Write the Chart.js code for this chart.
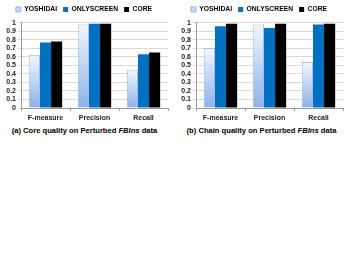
<!DOCTYPE html>
<html>
<head>
<meta charset="utf-8">
<script src="https://cdn.jsdelivr.net/npm/chart.js@4/dist/chart.umd.min.js"></script>
<style>
    body { margin: 0; background: #fff; width: 350px; height: 263px; position: relative; overflow: hidden; }
    .panel { position: absolute; top: 0; width: 175px; height: 122px; }
    .caption { position: absolute; top: 126px; width: 175px; text-align: center; white-space: nowrap;
        font-family: "Liberation Sans", Arial, sans-serif; font-weight: bold; font-size: 7.6px; color: #000;
        -webkit-font-smoothing: antialiased; }
</style>
</head>
<body>
<div class="panel" style="left:0"><canvas id="coreChart" width="175" height="122"></canvas></div>
<div class="panel" style="left:175px"><canvas id="chainChart" width="175" height="122"></canvas></div>
<div class="caption" style="left:-3px">(a) Core quality on Perturbed <i>FBIns</i> data</div>
<div class="caption" style="left:174px">(b) Chain quality on Perturbed <i>FBIns</i> data</div>
<script>
const categories = ['F-measure', 'Precision', 'Recall'];
const seriesNames = ['YOSHIDAI', 'ONLYSCREEN', 'CORE'];
const yTicks = [0, 0.1, 0.2, 0.3, 0.4, 0.5, 0.6, 0.7, 0.8, 0.9, 1];

// panel (a) core quality
const coreYoshidai = [0.62, 0.98, 0.45];
const coreOnlyscreen = [0.77, 0.99, 0.63];
const coreCore = [0.78, 0.99, 0.65];

// panel (b) chain quality
const chainYoshidai = [0.70, 0.98, 0.54];
const chainOnlyscreen = [0.96, 0.94, 0.98];
const chainCore = [0.99, 0.99, 0.99];

const FONT = 'Liberation Sans, Arial, sans-serif';

// per-bar gradient like the excel fill
function yoshidaiFill(context) {
    const chart = context.chart;
    if (!chart.chartArea || context.parsed === undefined) return '#c6d9f5';
    const y = chart.scales.y;
    const top = y.getPixelForValue(context.parsed.y);
    const bottom = y.getPixelForValue(0);
    const g = chart.ctx.createLinearGradient(0, top, 0, bottom);
    g.addColorStop(0, '#f2f6fd');
    g.addColorStop(1, '#8db2ea');
    return g;
}

function makeChart(id, a, b, c) {
    const ctx = document.getElementById(id).getContext('2d');
    return new Chart(ctx, {
        type: 'bar',
        data: {
            labels: categories,
            datasets: [{
                label: seriesNames[0],
                data: a,
                backgroundColor: yoshidaiFill,
                borderColor: '#86aae2',
                borderWidth: 0.8
            }, {
                label: seriesNames[1],
                data: b,
                backgroundColor: '#0070c0',
                borderWidth: 0
            }, {
                label: seriesNames[2],
                data: c,
                backgroundColor: '#000000',
                borderWidth: 0
            }]
        },
        options: {
            responsive: false,
            animation: false,
            devicePixelRatio: 1,
            categoryPercentage: 0.68,
            barPercentage: 1.0,
            layout: { padding: { left: 0, right: 7, top: 0, bottom: 0 } },
            plugins: {
                tooltip: { enabled: false },
                legend: {
                    position: 'top',
                    labels: {
                        boxWidth: 5,
                        boxHeight: 5,
                        padding: 6,
                        color: '#222',
                        font: { family: FONT, size: 6.8, weight: 'bold' },
                        generateLabels: function(chart) {
                            const fills = ['#c6d9f5', '#0070c0', '#000000'];
                            return seriesNames.map((n, i) => ({
                                text: n,
                                fillStyle: fills[i],
                                strokeStyle: i === 0 ? '#86aae2' : fills[i],
                                lineWidth: i === 0 ? 0.8 : 0,
                                datasetIndex: i
                            }));
                        }
                    }
                }
            },
            scales: {
                x: {
                    grid: { display: true, offset: true, drawOnChartArea: false, drawTicks: true, tickLength: 3, color: '#9a9a9a' },
                    border: { color: '#9a9a9a' },
                    ticks: { color: '#222', padding: 3, font: { family: FONT, size: 7, weight: 'bold' } },
                    afterFit: function(scale) { scale.height = 14; }
                },
                y: {
                    min: 0,
                    max: 1,
                    afterBuildTicks: function(scale) { scale.ticks = yTicks.map(v => ({ value: v })); },
                    grid: { color: '#d9d9d9', tickLength: 3 },
                    border: { color: '#9a9a9a' },
                    ticks: { color: '#222', padding: 2, autoSkip: false, font: { family: FONT, size: 7, weight: 'bold' },
                        callback: v => String(v) },
                    afterFit: function(scale) { scale.width = 21; }
                }
            }
        }
    });
}

makeChart('coreChart', coreYoshidai, coreOnlyscreen, coreCore);
makeChart('chainChart', chainYoshidai, chainOnlyscreen, chainCore);
</script>
</body>
</html>
